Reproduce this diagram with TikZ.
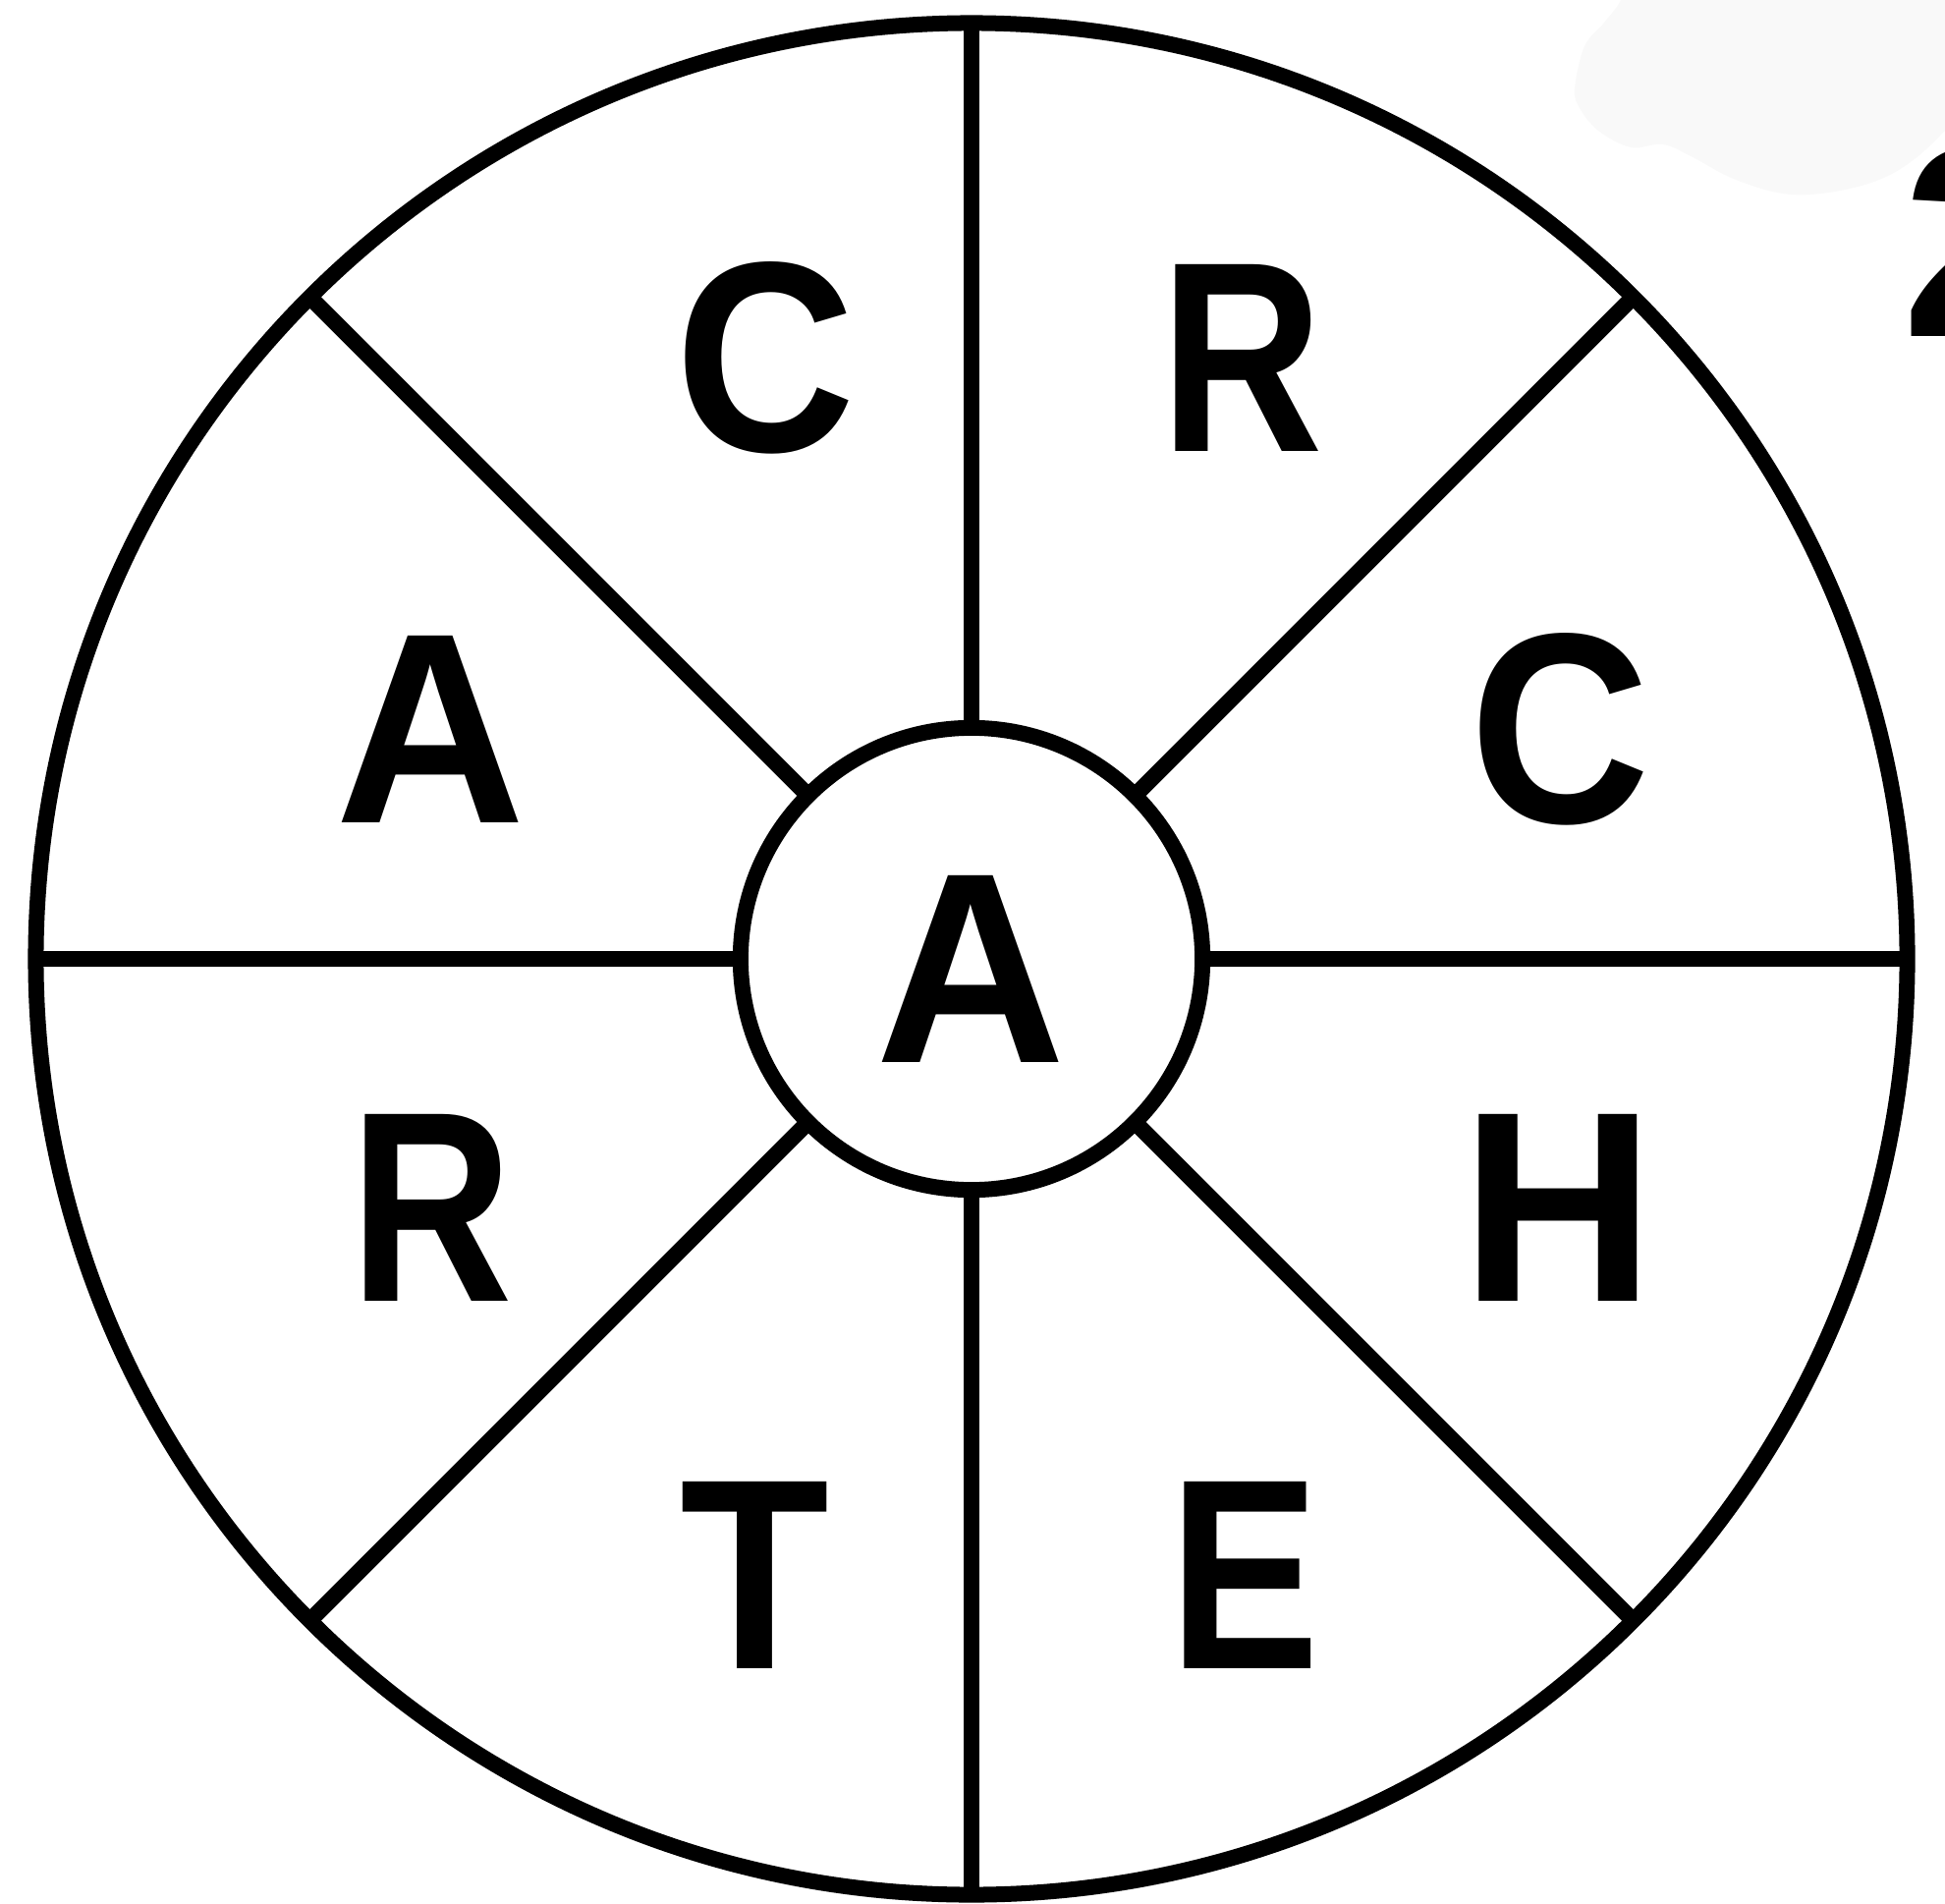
\documentclass[tikz,border=0pt]{standalone}
\usepackage{graphicx}
\usepackage{fontspec}
\setmainfont{Liberation Sans}
\definecolor{blobgrey}{RGB}{249,249,249}
\newcommand{\sqz}[2]{\scalebox{#1}[1]{#2}}
\begin{document}
\begin{tikzpicture}[x=0.01cm,y=-0.01cm,
  ring/.style={circle,draw=black,line width=0.16cm,outer sep=0pt,inner sep=0pt},
  spoke/.style={draw=black,line width=0.165cm,line cap=butt},
  letter/.style={anchor=base,inner sep=0pt,font=\fontsize{78.6}{80}\selectfont\bfseries}]
\useasboundingbox (0,0) rectangle (1980,1937);
\begin{scope}
\clip (0,0) rectangle (1980,1937);
\fill[blobgrey] plot[smooth cycle,tension=0.6] coordinates {
  (1660,-30) (1650,0) (1633,23) (1613,47) (1603,90) (1608,110) (1627,133)
  (1660,150) (1693,147) (1723,160) (1767,183) (1823,198) (1883,192)
  (1933,173) (1980,133) (2040,60) (2000,-40) (1800,-50)};
\node[letter,anchor=base west] (two) at (1936,343) {2};
\end{scope}
\node[ring,minimum size=19.04cm] (rim) at (989,976) {};
\node[ring,minimum size=4.70cm,fill=white] (hub) at (989,976) {};
\foreach \a in {0,45,...,315} \draw[spoke] (hub.\a) -- (rim.\a);
\node[letter] (c1) at (779,459) {\sqz{0.92}{C}};
\node[letter] (r1) at (1264,459) {\sqz{0.83}{R}};
\node[letter] (a1) at (438,837) {\sqz{0.97}{A}};
\node[letter] (c2) at (1588,837) {\sqz{0.92}{C}};
\node[letter] (a0) at (988,1081) {\sqz{0.97}{A}};
\node[letter] (r2) at (439,1324) {\sqz{0.83}{R}};
\node[letter] (h1) at (1586,1324) {\sqz{0.99}{H}};
\node[letter] (t1) at (768,1698) {\sqz{0.90}{T}};
\node[letter] (e1) at (1267,1698) {\sqz{0.83}{E}};
\end{tikzpicture}
\end{document}
